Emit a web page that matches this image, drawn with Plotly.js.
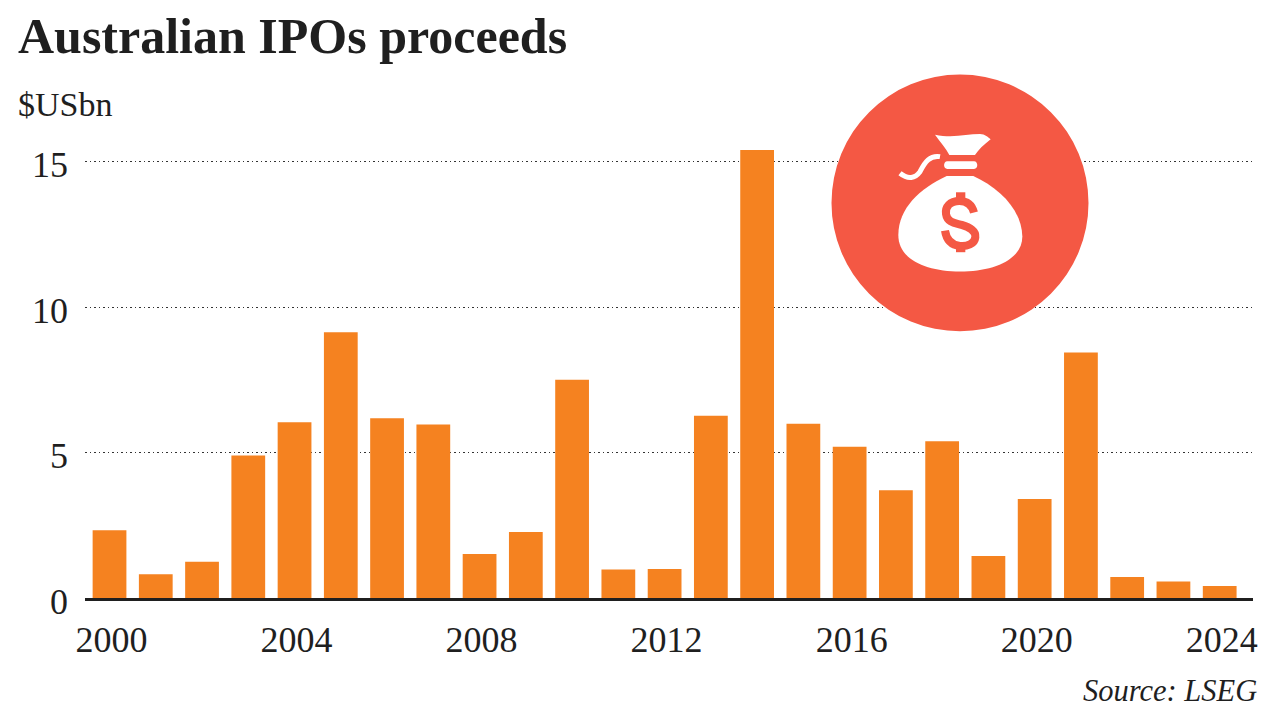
<!DOCTYPE html>
<html>
<head>
<meta charset="utf-8">
<script src="https://cdn.plot.ly/plotly-3.0.1.min.js"></script>
<style>html,body{margin:0;padding:0;background:#fff}#chart{width:1280px;height:720px}</style>
</head>
<body>
<div id="chart"></div>
<script>
const years = [2000,2001,2002,2003,2004,2005,2006,2007,2008,2009,2010,2011,2012,2013,2014,2015,2016,2017,2018,2019,2020,2021,2022,2023,2024];
const proceeds = [2.33,0.82,1.25,4.9,6.04,9.13,6.18,5.96,1.51,2.27,7.5,0.98,1.0,6.26,15.4,5.99,5.2,3.7,5.39,1.44,3.4,8.44,0.72,0.57,0.41];
const xTicks = [2000,2004,2008,2012,2016,2020,2024];
const yTicks = [0,5,10,15];

const W = 1280, H = 720;
const M = {l:85, r:27, t:140, b:121.5};
const SERIF = '"Liberation Serif", serif';
const INK = '#1f1f1f', RED = '#F45844';

// icon drawn in pixel coordinates of the page, converted to paper fractions
const px = x => (x - M.l) / (W - M.l - M.r);
const py = y => (H - M.b - y) / (H - M.t - M.b);
function iconPath(cmds){
  return cmds.map(c => c[0] + c.slice(1).map((v,i) =>
    i % 2 === 0 ? px(820 + v/3) : py(60 + v/3)).join(',')).join(' ');
}
const Z = 'Z';
const white = {type:'path', xref:'paper', yref:'paper', layer:'above', fillcolor:'#fff', line:{width:0}};
const stroke = (color,w) => ({type:'path', xref:'paper', yref:'paper', layer:'above', fillcolor:'rgba(0,0,0,0)', line:{color:color,width:w}});

const shapes = [
  {type:'circle', xref:'paper', yref:'paper', layer:'above', fillcolor:RED, line:{width:0},
   x0:px(831.5), x1:px(1088.5), y0:py(331.5), y1:py(74.5)},
  // flap
  Object.assign({}, white, {path: iconPath([
    ['M',345,224],['C',400,235,440,222,480,222],['C',495,222,505,232,512,238],
    ['C',490,255,475,270,465,285],['L',388,285],['C',378,265,360,245,345,224]]) + Z}),
  // band
  Object.assign({}, white, {path: iconPath([
    ['M',382,304],['L',462,304],['C',475,304,475,327,462,327],['L',382,327],['C',369,327,369,304,382,304]]) + Z}),
  // body
  Object.assign({}, white, {path: iconPath([
    ['M',380,348],['L',460,348],['C',540,385,605,450,607,530],['C',607,600,520,635,420,635],
    ['C',320,635,235,600,235,525],['C',235,445,300,385,380,348]]) + Z}),
  // string
  Object.assign({}, stroke('#fff',5), {path: iconPath([
    ['M',240,340],['C',265,360,285,355,300,335],['C',315,305,330,285,360,290]])}),
  // dollar S
  Object.assign({}, stroke(RED,8), {path: iconPath([
    ['M',462,458],['C',455,430,435,423,418,423],['C',390,423,375,440,378,462],
    ['C',382,490,410,490,425,495],['C',450,503,468,512,466,532],
    ['C',464,553,440,560,420,558],['C',400,556,380,545,375,512]])}),
  // dollar stubs
  Object.assign({}, stroke(RED,0), {fillcolor:RED, path: iconPath([['M',408,397],['L',436,397],['L',436,425],['L',408,425]]) + Z}),
  Object.assign({}, stroke(RED,0), {fillcolor:RED, path: iconPath([['M',408,552],['L',436,552],['L',436,577],['L',408,577]]) + Z})
];

const trace = {type:'bar', x:years, y:proceeds, width:0.73, marker:{color:'#F58220', line:{width:0}}, hoverinfo:'x+y'};

const layout = {
  width:W, height:H, margin:M, paper_bgcolor:'#fff', plot_bgcolor:'#fff',
  font:{family:SERIF, color:INK},
  showlegend:false,
  title:{text:'<b>Australian IPOs proceeds</b>', font:{family:SERIF, size:50, color:INK},
         x:18/W, xanchor:'left', xref:'container', y:1-35/H, yanchor:'middle', yref:'container'},
  xaxis:{type:'linear', range:[1999.47,2024.72], tickmode:'array', tickvals:xTicks, ticktext:xTicks.map(String),
         showgrid:false, zeroline:false, showline:true, linecolor:INK, linewidth:2.5, ticks:'', ticklabelstandoff:8,
         ticklabelshift:2, tickfont:{family:SERIF, size:36, color:INK}},
  yaxis:{range:[0,(H-M.t-M.b)/29.13], tickmode:'array', tickvals:yTicks, ticktext:yTicks.map(String),
         showgrid:true, gridcolor:'#333', gridwidth:1.2, griddash:'1.5px,3px', zeroline:false, showline:false, ticks:'',
         ticklabelstandoff:16, ticklabelshift:3, tickfont:{family:SERIF, size:36, color:INK}},
  shapes:shapes,
  annotations:[
    {text:'$USbn', xref:'paper', yref:'paper', x:px(16), y:py(104), xanchor:'left', yanchor:'middle', showarrow:false,
     font:{family:SERIF, size:34, color:INK}},
    {text:'<i>Source: LSEG</i>', xref:'paper', yref:'paper', x:px(1259), y:py(692), xanchor:'right', yanchor:'middle', showarrow:false,
     font:{family:SERIF, size:30.5, color:INK}}
  ]
};
Plotly.newPlot('chart',[trace],layout,{displayModeBar:false,responsive:false});
</script>
</body>
</html>
